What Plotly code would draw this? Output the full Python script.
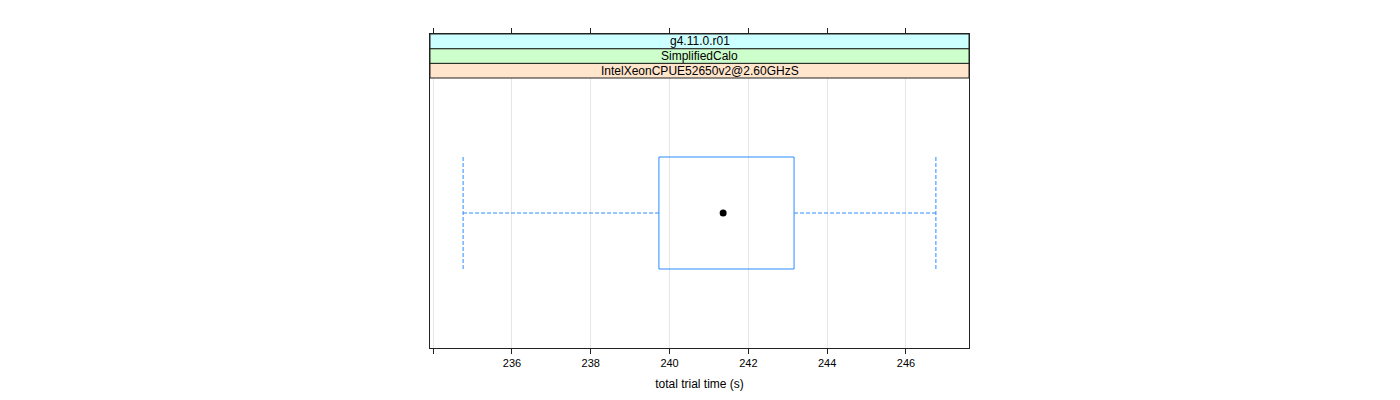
import plotly.graph_objects as go

# ---- data ----
strip_labels = ["IntelXeonCPUE52650v2@2.60GHzS", "SimplifiedCalo", "g4.11.0.r01"]  # bottom -> top
strip_colors = ["#ffe5cc", "#ccffcc", "#ccffff"]
whisker_low = 234.76
q1 = 239.73
median = 241.36
q3 = 243.16
whisker_high = 246.76
tick_vals = [234, 236, 238, 240, 242, 244, 246]
tick_text = ["", "236", "238", "240", "242", "244", "246"]
x_title = "total trial time (s)"

# ---- geometry ----
x_range = [233.92, 247.6]
y_center = 0.5
half_box = 0.2074
panel_px = 270.0
strip_px = 44.0
plot_px = panel_px + strip_px
y_range = [0, plot_px / panel_px]
strip_frac = strip_px / plot_px

box_color = "#2a8cff"
FONT = "Liberation Sans, Arial, Helvetica, sans-serif"

fig = go.Figure()

# box rectangle
fig.add_trace(go.Scatter(
    x=[q1, q3, q3, q1, q1],
    y=[y_center - half_box, y_center - half_box, y_center + half_box, y_center + half_box, y_center - half_box],
    mode="lines", line=dict(color=box_color, width=1), hoverinfo="skip", showlegend=False))
# whiskers (dashed)
for a, b in [(whisker_low, q1), (q3, whisker_high)]:
    fig.add_trace(go.Scatter(x=[a, b], y=[y_center, y_center], mode="lines",
                             line=dict(color=box_color, width=1, dash="4px,2px"),
                             hoverinfo="skip", showlegend=False))
# whisker caps (dashed, full box height)
for w in [whisker_low, whisker_high]:
    fig.add_trace(go.Scatter(x=[w, w], y=[y_center - half_box, y_center + half_box], mode="lines",
                             line=dict(color=box_color, width=1, dash="4px,2px"),
                             hoverinfo="skip", showlegend=False))
# median dot
fig.add_trace(go.Scatter(x=[median], y=[y_center], mode="markers",
                         marker=dict(color="black", size=7), hoverinfo="skip", showlegend=False))

# strips
shapes = []
annotations = []
n = len(strip_labels)
h = strip_frac / n
y0_base = 1 - strip_frac
for i, (lab, col) in enumerate(zip(strip_labels, strip_colors)):
    y0 = y0_base + i * h
    y1 = y0 + h
    shapes.append(dict(type="rect", xref="paper", yref="paper", x0=0, x1=1, y0=y0, y1=y1,
                       fillcolor=col, line=dict(color="#222222", width=1), layer="above"))
    annotations.append(dict(xref="paper", yref="paper", x=0.5, y=(y0 + y1) / 2, text=lab,
                            showarrow=False, font=dict(family=FONT, size=12, color="black"),
                            xanchor="center", yanchor="middle"))

fig.update_layout(
    width=1400, height=400,
    margin=dict(l=430, r=431, t=34, b=52),
    paper_bgcolor="white", plot_bgcolor="white",
    shapes=shapes, annotations=annotations,
    xaxis=dict(range=x_range, tickmode="array", tickvals=tick_vals, ticktext=tick_text,
               ticks="outside", ticklen=5, tickcolor="#222222", showline=True, mirror="ticks",
               linecolor="#222222", linewidth=1, showgrid=True, gridcolor="#e6e6e6", gridwidth=1,
               zeroline=False, tickfont=dict(family=FONT, size=11, color="black"),
               title=dict(text=x_title, font=dict(family=FONT, size=12, color="black"), standoff=11)),
    yaxis=dict(range=y_range, showticklabels=False, ticks="", showgrid=False, zeroline=False,
               showline=True, mirror=True, linecolor="#222222", linewidth=1),
)

fig.write_html("out.html")
